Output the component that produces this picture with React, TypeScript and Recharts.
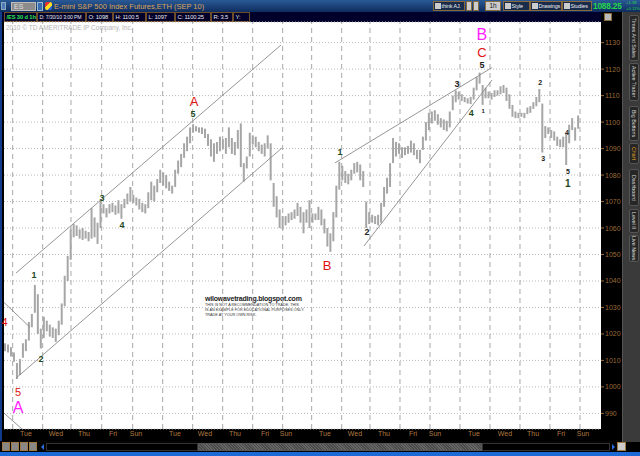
import React from 'react';
import { ComposedChart, Bar, XAxis, YAxis, CartesianGrid, ReferenceLine, ReferenceDot } from 'recharts';

// hourly bars (sampled), ES Sep 10
const highs = [
  1016.5, 1016, 1015, 1013, 1009, 1010.5, 1016.5, 1018, 1024.5, 1027.5,
  1038.5, 1035, 1022, 1026.5, 1025, 1023.5, 1022.5, 1022, 1025, 1031.5,
  1042, 1049.5, 1059.5, 1061.5, 1061, 1059.5, 1060, 1059, 1058.5, 1067.5,
  1064, 1062, 1070.5, 1069, 1067.5, 1069, 1069.5, 1068.5, 1070.5, 1069,
  1071, 1073, 1075.5, 1072.5, 1071.5, 1071, 1069.5, 1069, 1073.5, 1077.5,
  1076, 1078.5, 1082, 1081, 1080, 1077.5, 1076, 1082, 1085.5, 1088,
  1092, 1094.5, 1098, 1099.2, 1098.5, 1098, 1098, 1097.5, 1095.5, 1093.5,
  1092, 1092.5, 1094.5, 1093.5, 1094, 1098, 1094, 1092.5, 1097, 1099.5,
  1084.5, 1087, 1096, 1095, 1094.5, 1092.5, 1091.5, 1092, 1095, 1092,
  1077, 1072, 1067, 1064.5, 1064.5, 1065.5, 1066, 1067, 1069.5, 1068,
  1066, 1067, 1070.5, 1065.5, 1065.5, 1068, 1067, 1063.5, 1060, 1058,
  1066, 1076, 1085, 1083.5, 1081.5, 1080.5, 1082, 1084.5, 1085, 1084,
  1081.5, 1070, 1066, 1065, 1064.5, 1065, 1069.5, 1075.5, 1079, 1084.5,
  1094, 1092.5, 1092, 1090.5, 1090.5, 1091, 1093, 1092, 1089.5, 1089.5,
  1094.5, 1100, 1103.5, 1104, 1104.5, 1103, 1101.5, 1101, 1100.5, 1104,
  1110, 1112, 1111.5, 1110.5, 1109.5, 1109, 1109.5, 1113, 1117, 1118.7,
  1114, 1113, 1111.5, 1111, 1112, 1112, 1113.5, 1114, 1113, 1110.5,
  1106.5, 1104, 1103.5, 1103.5, 1103.5, 1105.5, 1106, 1107.5, 1109.5, 1112.5,
  1107, 1098.5, 1098, 1097, 1096.5, 1094.5, 1093.5, 1094.5, 1096, 1099,
  1101.5, 1098, 1102.5,
];
const lows = [
  1013.5, 1013, 1011.5, 1009.5, 1003, 1004.5, 1011, 1013.5, 1017.5, 1022.5,
  1028, 1020, 1014.5, 1018.5, 1021, 1019, 1018.5, 1017, 1019.5, 1023.5,
  1030.5, 1040, 1048, 1056.5, 1057, 1056, 1055.5, 1056, 1055, 1056,
  1056.5, 1054, 1060, 1065.5, 1064, 1065.5, 1066, 1065, 1065.5, 1063.5,
  1067.5, 1069, 1070, 1069.5, 1068.5, 1067, 1066, 1065.5, 1067.5, 1070.5,
  1070, 1073.5, 1077, 1076, 1075, 1074, 1073, 1075.5, 1080.5, 1083,
  1086.5, 1089, 1092, 1096, 1096.5, 1096, 1095.5, 1094, 1091, 1087,
  1085, 1088, 1089, 1090, 1088, 1090.5, 1088, 1087.5, 1090, 1083,
  1077.5, 1082.5, 1087, 1091.5, 1090.5, 1089, 1088, 1087, 1090, 1078,
  1068, 1064, 1060, 1059.5, 1061, 1062, 1063, 1063.5, 1064.5, 1062,
  1058, 1062, 1060, 1062, 1063, 1063, 1061, 1058, 1053, 1051,
  1055, 1064, 1074.5, 1078, 1077, 1076.5, 1078, 1080.5, 1081, 1078,
  1075.5, 1060, 1061.5, 1062, 1061.5, 1061, 1062, 1068, 1073, 1075.5,
  1084.5, 1087, 1088, 1086.5, 1087.5, 1088, 1088.5, 1087.5, 1086, 1084.5,
  1089.5, 1093, 1097, 1099.5, 1100.5, 1099, 1098, 1097, 1096.5, 1098,
  1104.5, 1107.5, 1108.5, 1108, 1107.5, 1107, 1106.8, 1108.5, 1112, 1114.5,
  1106.5, 1109, 1109, 1108.5, 1109.5, 1110, 1110.5, 1111, 1108, 1105,
  1102, 1101.5, 1101.5, 1102, 1101.5, 1103, 1103.5, 1105, 1106, 1107.5,
  1088.5, 1094, 1095.5, 1094, 1093, 1091, 1090.5, 1090.5, 1083.8, 1092,
  1097, 1093, 1097.5,
];

const priceTicks = [990, 1000, 1010, 1020, 1030, 1040, 1050, 1060, 1070, 1080, 1090, 1100, 1110, 1120, 1130];
const dayBoundaries = [2.41, 12.46, 21.94, 32.23, 42.61, 52.66, 62.71, 72.76, 82.81, 92.86, 102.57, 112.63, 122.11, 132.16, 142.21, 152.26, 162.31, 172.36, 182.41, 192.46];
const dayTicks = [6.87, 16.92, 26.3, 36.02, 43.72, 56.79, 66.84, 76.88, 86.93, 93.97, 107.04, 117.09, 126.8, 136.52, 143.89, 156.95, 167.34, 176.72, 186.1, 193.47];
const dayNames = ['Tue', 'Wed', 'Thu', 'Fri', 'Sun', 'Tue', 'Wed', 'Thu', 'Fri', 'Sun', 'Tue', 'Wed', 'Thu', 'Fri', 'Sun', 'Tue', 'Wed', 'Thu', 'Fri', 'Sun'];

// trendlines: [t1, p1, t2, p2]
const trendLines = [
  [3.52, 1043.0, 92.3, 1129.1],
  [3.52, 1003.3, 92.6, 1090.2],
  [-0.5, 1031.9, 8.21, 1022.5],
  [-0.5, 990.1, 5.53, 984.1],
  [110.4, 1084.6, 163.0, 1120.6],
  [120.1, 1053.2, 163.0, 1115.9],
];

const GREEN = '#1f4a1f';
const RED = '#e01010';
const MAG = '#ff22ff';
const BLK = '#222';
// wave labels: t, price, text, color, size
const waveLabels: [number, number, string, string, number][] = [
  [-0.3, 1024.5, '4', RED, 11],
  [4.19, 998.0, '5', RED, 11],
  [4.19, 992.3, 'A', MAG, 16],
  [9.55, 1042.3, '1', GREEN, 9],
  [11.9, 1010.5, '2', GREEN, 9],
  [32.3, 1071.3, '3', GREEN, 9],
  [39.0, 1061.1, '4', GREEN, 9],
  [62.8, 1103.0, '5', GREEN, 9],
  [63.2, 1108.0, 'A', RED, 13],
  [107.7, 1046.0, 'B', RED, 13],
  [112.1, 1088.7, '1', GREEN, 9],
  [121.1, 1058.5, '2', BLK, 9],
  [151.3, 1114.4, '3', BLK, 9],
  [156.0, 1103.4, '4', GREEN, 9],
  [159.6, 1121.6, '5', BLK, 9],
  [159.6, 1126.5, 'C', RED, 13],
  [159.6, 1133.3, 'B', MAG, 16],
  [160.0, 1104.2, '1', BLK, 6],
  [179.1, 1114.8, '2', BLK, 7],
  [180.1, 1086.4, '3', BLK, 7],
  [188.1, 1095.9, '4', BLK, 7],
  [188.4, 1081.2, '5', BLK, 7],
  [188.4, 1076.7, '1', GREEN, 10],
];

const data = highs.map((h, i) => ({ t: i, range: [lows[i], h] }));

const UI = '"Liberation Sans", Arial, sans-serif';
const abs = (l: number, t: number, w: number, h: number, extra: React.CSSProperties = {}): React.CSSProperties => ({
  position: 'absolute', left: l, top: t, width: w, height: h, boxSizing: 'border-box', ...extra,
});

const infoBoxes: [number, number, string, string][] = [
  [4, 33, '/ES 30 d 1h', '#2ee84a'],
  [37, 49, 'D: 7/30/10 3:00 PM', '#e8e8e8'],
  [86, 27, 'O: 1098', '#e8e8e8'],
  [113, 33, 'H: 1100.5', '#e8e8e8'],
  [146, 29, 'L: 1097', '#e8e8e8'],
  [175, 36, 'C: 1100.25', '#e8e8e8'],
  [211, 22, 'R: 3.5', '#e8e8e8'],
  [233, 17, 'Y:', '#e8e8e8'],
];

const topButtons: [number, number, string][] = [
  [433, 32, 'think AJ.'],
  [503, 27, 'Style'],
  [530, 32, 'Drawings'],
  [562, 30, 'Studies'],
];

const tabs: [number, number, string, string][] = [
  [15, 46, 'Times And Sales', '#ddd'],
  [63, 38, 'Active Trader', '#ddd'],
  [106, 35, 'Big Buttons', '#ddd'],
  [143, 21, 'Chart', '#f0b020'],
  [169, 37, 'Dashboard', '#ddd'],
  [209, 24, 'Level II', '#ddd'],
  [235, 27, 'Live News', '#ddd'],
];

export default function App() {
  return (
    <div style={{ position: 'fixed', left: 0, top: 0, width: 640, height: 456, background: '#000', overflow: 'hidden', fontFamily: UI }}>
      {/* title bar */}
      <div style={abs(0, 0, 640, 12, { background: 'linear-gradient(#2a5a96, #0e2c5e)' })} />
      <div style={abs(1, 2, 5, 8, { background: '#4d7ab8', border: '1px solid #8ab' })} />
      <div style={abs(11, 2, 25, 9, { background: '#8c8c8c', border: '1px solid #bbb', fontSize: 7, color: '#e0e0e0', lineHeight: '7px', paddingLeft: 2 })}>ES</div>
      <div style={abs(37, 2, 6, 9, { background: '#3b6cb0', border: '1px solid #9bc' })} />
      <div style={abs(45, 2, 7, 8, { background: 'linear-gradient(135deg,#e33 0 40%,#fd2 40% 70%,#36c 70%)', borderRadius: 2 })} />
      <div style={abs(54, 1, 200, 11, { fontSize: 7.5, color: '#dca35a', lineHeight: '11px', whiteSpace: 'nowrap' })}>E-mini S&amp;P 500 Index Futures,ETH (SEP 10)</div>
      {topButtons.map(([l, w, s]) => (
        <div key={s} style={abs(l, 1, w, 10, { border: '1px solid #8a6a3a', background: '#1a2c4c', fontSize: 5.4, color: '#eee', lineHeight: '8px', paddingLeft: 7.5, whiteSpace: 'nowrap', overflow: 'hidden', letterSpacing: -0.1 })}>
          <div style={abs(1, 1, 5.5, 6, { background: '#ccc' })} />{s}
        </div>
      ))}
      <div style={abs(466, 1, 6, 10, { border: '1px solid #8a6a3a', background: '#ccc' })} />
      <div style={abs(473, 1, 6, 10, { border: '1px solid #8a6a3a', background: '#ccc' })} />
      <div style={abs(485, 1, 16, 10, { border: '1px solid #8a6a3a', background: '#ccc', fontSize: 6.5, color: '#111', lineHeight: '8px', textAlign: 'center' })}>1h</div>
      <div style={abs(593, 0, 32, 12, { fontSize: 8.3, fontWeight: 'bold', color: '#26d64a', lineHeight: '12px', letterSpacing: -0.2, whiteSpace: 'nowrap' })}>1088.25</div>
      <div style={abs(626, 0, 14, 6, { fontSize: 4.2, color: '#26d64a', lineHeight: '6px', whiteSpace: 'nowrap' })}>+1.38</div>
      <div style={abs(626, 6, 14, 6, { fontSize: 4.2, color: '#26d64a', lineHeight: '6px', whiteSpace: 'nowrap' })}>+0.11%</div>

      {/* info row */}
      <div style={abs(0, 12, 601, 10, { background: '#00002a' })} />
      {infoBoxes.map(([l, w, s, c], i) => (
        <div key={i} style={abs(l, 12, w, 10, { border: '1px solid #6d4c2a', fontSize: i === 1 ? 5.2 : 5.8, color: c, fontWeight: i === 0 ? 'bold' : 'normal', lineHeight: '8px', paddingLeft: 1.5, whiteSpace: 'nowrap', overflow: 'hidden', letterSpacing: -0.15 })}>{s}</div>
      ))}
      <div style={abs(604, 13, 8, 8, { background: '#bbb', border: '1px solid #8a6a3a' })} />

      {/* left blue edge */}
      <div style={abs(0, 12, 2, 444, { background: '#123a8a' })} />

      {/* plot background */}
      <div style={abs(4, 22, 597, 407, { background: '#fff' })} />
      <div style={abs(6, 23, 200, 9, { fontSize: 6.5, color: '#b4b4b4', lineHeight: '9px', whiteSpace: 'nowrap' })}>2010 © TD AMERITRADE IP Company, Inc.</div>
      <div style={abs(205, 294, 120, 9, { fontSize: 7, fontWeight: 'bold', color: '#222', lineHeight: '9px', whiteSpace: 'nowrap', letterSpacing: -0.2 })}>wilowavetrading.blogspot.com</div>
      <div style={abs(205, 303, 120, 15, { fontSize: 3.8, color: '#333', lineHeight: '4.8px', whiteSpace: 'nowrap' })}>
        THIS IS NOT A RECOMMENDATION TO TRADE. THIS<br />IS AN EXAMPLE FOR EDUCATIONAL PURPOSES ONLY.<br />TRADE AT YOUR OWN RISK.
      </div>

      <div style={{ position: 'absolute', left: 0, top: 0 }}>
        <ComposedChart width={640} height={456} data={data} margin={{ top: 22, right: 0, bottom: 0, left: 4 }}>
          <CartesianGrid vertical={false} stroke="#b8b8b8" strokeDasharray="1 2" />
          {dayBoundaries.map((d) => (
            <ReferenceLine key={d} x={d} stroke="#a8a8a8" strokeDasharray="5 4" />
          ))}
          <XAxis
            type="number"
            dataKey="t"
            domain={[-0.5, 199.5]}
            allowDataOverflow
            ticks={dayTicks}
            tickFormatter={(v: number) => dayNames[dayTicks.indexOf(v)] ?? ''}
            interval={0}
            height={27}
            axisLine={false}
            tickLine={false}
            tickSize={0}
            tickMargin={2}
            tick={{ fill: '#b07a40', fontSize: 7, fontFamily: UI }}
          />
          <YAxis
            orientation="right"
            width={39}
            domain={[984.1, 1137.8]}
            allowDataOverflow
            ticks={priceTicks}
            interval={0}
            axisLine={false}
            tickSize={3}
            tickMargin={1}
            tickLine={{ stroke: '#9a6a38' }}
            tick={{ fill: '#9a6a38', fontSize: 7, fontFamily: UI, textAnchor: 'start' }}
          />
          <Bar dataKey="range" barSize={2} fill="#a6a6a6" isAnimationActive={false} />
          {trendLines.map(([t1, p1, t2, p2], i) => (
            <ReferenceLine
              key={'tl' + i}
              segment={[{ x: t1, y: p1 }, { x: t2, y: p2 }]}
              stroke="#8a8a8a"
              strokeWidth={0.9}
              ifOverflow="hidden"
            />
          ))}
          {waveLabels.map(([t, p, s, c, sz], i) => (
            <ReferenceDot
              key={'wl' + i}
              x={t}
              y={p}
              r={1}
              fill="none"
              stroke="none"
              ifOverflow="visible"
              label={{ value: s, position: 'center', fill: c, fontSize: sz, fontWeight: sz < 11 ? 'bold' : 'normal', fontFamily: UI }}
            />
          ))}
        </ComposedChart>
      </div>

      {/* right sidebar */}
      <div style={abs(622, 12, 18, 430, { background: '#3a3a3a', borderLeft: '1px solid #555' })} />
      {tabs.map(([t, h, s, c]) => (
        <div key={s} style={abs(629, t, 10, h, { background: '#262626', border: '1px solid #555', borderRadius: 2, color: c, fontSize: 5.3, writingMode: 'vertical-rl', textAlign: 'center', lineHeight: '8px', whiteSpace: 'nowrap', overflow: 'hidden' })}>{s}</div>
      ))}

      {/* footer */}
      <div style={abs(0, 441, 622, 11, { background: '#050505' })} />
      {[2, 11, 20, 29].map((l) => (
        <div key={l} style={abs(l, 442, 8, 9, { background: '#888', border: '1px solid #a07a40' })} />
      ))}
      <div style={abs(41, 444, 0, 0, { borderTop: '3px solid transparent', borderBottom: '3px solid transparent', borderRight: '3px solid #2a6ae0' })} />
      <div style={abs(46, 443, 152, 8, { border: '1px solid #333', background: '#000' })} />
      <div style={abs(198, 443, 284, 8, { border: '1px solid #555', background: 'repeating-linear-gradient(45deg,#4a4a4a 0 1px,#666 1px 2px)' })} />
      <div style={abs(482, 443, 128, 8, { border: '1px solid #333', background: '#000' })} />
      <div style={abs(612, 444, 0, 0, { borderTop: '3px solid transparent', borderBottom: '3px solid transparent', borderLeft: '3px solid #2a6ae0' })} />
      <div style={abs(617, 442, 9, 9, { background: '#ccc', border: '1px solid #a07a40' })} />
      <div style={abs(0, 452, 640, 4, { background: '#1c6ad8' })} />
    </div>
  );
}
